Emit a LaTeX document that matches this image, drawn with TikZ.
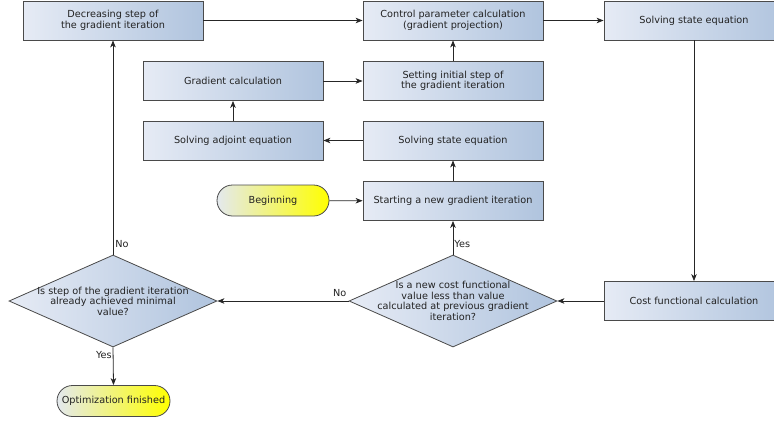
\documentclass[tikz,border=0pt]{standalone}
\usepackage{fontspec}
\setmainfont{DejaVu Sans}
\usepackage{xcolor}
\usepackage{tikz}
\usetikzlibrary{positioning,shapes.geometric,arrows.meta}
\definecolor{fillleft}{HTML}{E6EBF5}
\definecolor{fillright}{HTML}{B0C4DE}
\definecolor{termleft}{HTML}{E4E9EE}
\definecolor{termright}{HTML}{FFFF00}
\definecolor{edge}{HTML}{4A4A4A}
\definecolor{txt}{HTML}{222222}

\begin{document}
\begin{tikzpicture}[
        x=1pt, y=-1pt,
        every node/.style={
            font=\fontsize{9.7}{10.6}\selectfont,
            text=txt
        },
        stage/.style={
            draw=edge,
            line width=0.8pt,
            left color=fillleft,
            right color=fillright,
            minimum width=180pt,
            minimum height=39pt,
            inner sep=0pt,
            align=center
        },
        terminal/.style={
            draw=edge,
            line width=0.8pt,
            rounded corners=15.5pt,
            left color=termleft,
            right color=termright,
            minimum height=31pt,
            inner sep=0pt,
            align=center
        },
        decision/.style={
            diamond,
            draw=edge,
            line width=0.8pt,
            left color=fillleft,
            right color=fillright,
            minimum width=208pt,
            minimum height=92pt,
            inner sep=0pt
        },
        flow/.style={
            ->,
            >={Stealth[length=7pt,width=5.5pt,inset=2pt]},
            line width=0.8pt,
            black!85
        }
    ]

    \useasboundingbox (0,0) rectangle (774,421);

    \node[stage] (decstep) at (113,20.5) {Decreasing step of\\the gradient iteration};
    \node[stage] (ctrl) at (453,20.5) {Control parameter calculation\\(gradient projection)};
    \node[stage] (statetop) at (694,20.5) {Solving state equation};
    \node[stage] (gradcalc) at (233,81) {Gradient calculation};
    \node[stage] (initstep) at (453,81) {Setting initial step of\\the gradient iteration};
    \node[stage] (adjoint) at (233,140.5) {Solving adjoint equation};
    \node[stage] (statemid) at (453,140.5) {Solving state equation};
    \node[stage] (newiter) at (453,201) {Starting a new gradient iteration};
    \node[stage] (cost) at (694,301) {Cost functional calculation};

    \node[terminal, minimum width=112pt] (begin) at (273,200.5) {Beginning};
    \node[terminal, minimum width=113pt] (finish) at (113.5,401) {Optimization finished};

    \node[decision, label={[align=center]center:Is a new cost functional\\value less than value\\calculated at previous gradient\\iteration?}] (costcheck) at (453,301) {};
    \node[decision, label={[align=center]center:Is step of the gradient iteration\\already achieved minimal\\value?}] (stepcheck) at (113,301) {};

    % main loop
    \draw[flow] (begin) -- (newiter);
    \draw[flow] (newiter) -- (statemid);
    \draw[flow] (statemid) -- (adjoint);
    \draw[flow] (adjoint) -- (gradcalc);
    \draw[flow] (gradcalc) -- (initstep);
    \draw[flow] (initstep) -- (ctrl);
    \draw[flow] (ctrl) -- (statetop);
    \draw[flow] (statetop.south -| cost.north) -- (cost.north);
    \draw[flow] (cost) -- (costcheck.east);
    \draw[flow] (costcheck.north) -- node[pos=0.3, right, inner sep=1pt] {Yes} (newiter.south);
    \draw[flow] (costcheck.west) -- node[pos=0, anchor=south east, inner sep=2pt, yshift=2pt] {No} (stepcheck.east);
    \draw[flow] (stepcheck.north) -- node[pos=0.05, right, inner sep=2pt] {No} (decstep.south);
    \draw[flow] (stepcheck.south) -- node[pos=0.2, left, inner sep=1pt] {Yes} (finish.north);
    \draw[flow] (decstep) -- (ctrl);

    \end{tikzpicture}
\end{document}
